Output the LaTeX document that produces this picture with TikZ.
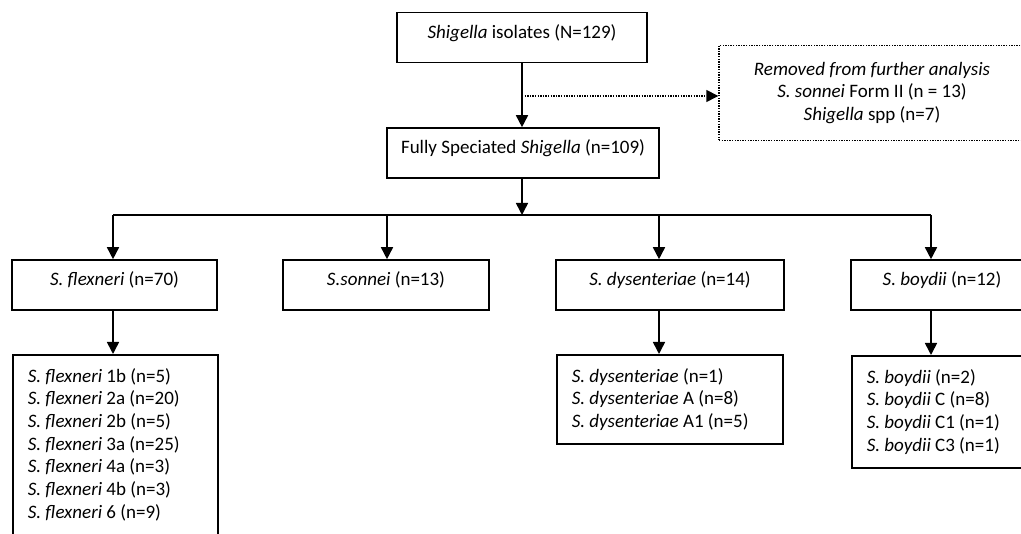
\documentclass[tikz,border=0pt]{standalone}
\usepackage{fontspec}
\setmainfont{Carlito}
\usetikzlibrary{arrows.meta}

\tikzset{
  box/.style={draw, line width=1.6pt, minimum height=50pt, inner sep=0pt,
    text height=10pt, text depth=8.5pt, font=\fontsize{19}{22}\selectfont},
  listbox/.style={draw, line width=1.6pt, align=flush left, anchor=north west,
    inner xsep=15pt, inner ysep=13.5pt, font=\fontsize{19}{22.7}\selectfont},
  removedbox/.style={draw, line width=1.4pt, dash pattern=on 1.4pt off 1.2pt,
    minimum width=306pt, minimum height=95pt, align=center,
    font=\fontsize{19}{22.5}\selectfont},
  arrow/.style={line width=1.6pt, -{Triangle[length=12pt,width=12pt]}},
  dotarrow/.style={line width=1.4pt, dash pattern=on 1.4pt off 1.2pt,
    -{Triangle[length=12pt,width=12pt]}},
  bus/.style={line width=1.6pt}
}

\begin{document}
\begin{tikzpicture}[x=1pt,y=-1pt]
\useasboundingbox (0,0) rectangle (1021,534);
\clip (0,0) rectangle (1021,534);

% top of the chart
\node[box, minimum width=250pt] (isolates) at (522,37.5) {\textit{Shigella} isolates (N=129)};
\node[box, minimum width=272pt] (speciated) at (523,153) {Fully Speciated \textit{Shigella} (n=109)};
\node[removedbox] (removed) at (872,93) {\textit{Removed from further analysis}\\
  \textit{S. sonnei} Form II (n = 13)\\
  \textit{Shigella} spp (n=7)};

% species
\node[box, minimum width=205pt] (flex) at (114.5,285) {\textit{S. flexneri} (n=70)};
\node[box, minimum width=206pt] (sonnei) at (386,285) {\textit{S.sonnei} (n=13)};
\node[box, minimum width=228pt] (dys) at (670,285) {\textit{S. dysenteriae} (n=14)};
\node[box, minimum width=182pt] (boyd) at (942,285) {\textit{S. boydii} (n=12)};

% serotypes
\node[listbox, text width=175pt] (flexsub) at (12,354) {\textit{S. flexneri} 1b (n=5)\\
  \textit{S. flexneri} 2a (n=20)\\
  \textit{S. flexneri} 2b (n=5)\\
  \textit{S. flexneri} 3a (n=25)\\
  \textit{S. flexneri} 4a (n=3)\\
  \textit{S. flexneri} 4b (n=3)\\
  \textit{S. flexneri} 6 (n=9)\\ ~\\ ~};
\node[listbox, text width=196pt] (dyssub) at (556,354) {\textit{S. dysenteriae} (n=1)\\
  \textit{S. dysenteriae} A (n=8)\\
  \textit{S. dysenteriae} A1 (n=5)};
\node[listbox, text width=152pt] (boydsub) at (851,355) {\textit{S. boydii} (n=2)\\
  \textit{S. boydii} C (n=8)\\
  \textit{S. boydii} C1 (n=1)\\
  \textit{S. boydii} C3 (n=1)};

\coordinate (split) at (522,96);
\coordinate (bus) at (522,215);
\coordinate (b1) at (113,215);
\coordinate (b2) at (387,215);
\coordinate (b3) at (659,215);
\coordinate (b4) at (931,215);

\draw[arrow] (isolates.south) -- (isolates.south |- speciated.north);
\draw[dotarrow] (split) -- (split -| removed.west);
\draw[arrow] (speciated.south -| bus) -- (bus);
\draw[bus] (b1) -- (b4);
\foreach \b/\n in {b1/flex, b2/sonnei, b3/dys, b4/boyd}
  \draw[arrow] (\b) -- (\b |- \n.north);
\foreach \b/\n in {b1/flex, b3/dys, b4/boyd}
  \draw[arrow] (\b |- \n.south) -- (\b |- \n sub.north);

\end{tikzpicture}
\end{document}
